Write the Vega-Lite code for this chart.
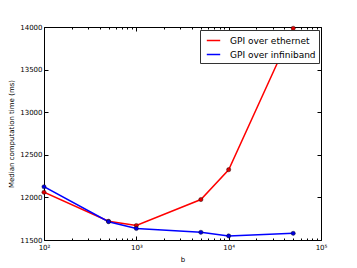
{
  "$schema": "https://vega.github.io/schema/vega-lite/v6.json",
  "width": 277,
  "height": 213,
  "autosize": {"type": "none"},
  "padding": {"left": 44, "top": 27, "right": 36, "bottom": 28},
  "background": "white",
  "config": {
    "font": "DejaVu Sans",
    "view": {"stroke": "black", "strokeWidth": 1},
    "axis": {
      "grid": false,
      "domain": false,
      "labelFont": "DejaVu Sans",
      "labelFontSize": 7,
      "labelColor": "black",
      "labelFlush": false,
      "labelOverlap": false,
      "tickColor": "black",
      "titleFont": "DejaVu Sans",
      "titleFontSize": 7,
      "titleFontWeight": "normal",
      "titleColor": "black"
    },
    "legend": {
      "orient": "none",
      "legendX": 156,
      "legendY": 3,
      "strokeColor": "#333333",
      "fillColor": "white",
      "padding": 3,
      "symbolType": "stroke",
      "symbolStrokeWidth": 1.5,
      "symbolSize": 180,
      "symbolOffset": 3,
      "labelOffset": 9,
      "labelFont": "DejaVu Sans",
      "labelFontSize": 9,
      "labelColor": "black",
      "rowPadding": 1,
      "cornerRadius": 0
    }
  },
  "data": {
    "values": [
      {"series": "GPI over ethernet", "b": 100, "t": 12060},
      {"series": "GPI over ethernet", "b": 500, "t": 11720},
      {"series": "GPI over ethernet", "b": 1000, "t": 11670},
      {"series": "GPI over ethernet", "b": 5000, "t": 11975},
      {"series": "GPI over ethernet", "b": 10000, "t": 12325},
      {"series": "GPI over ethernet", "b": 50000, "t": 13985},
      {"series": "GPI over infiniband", "b": 100, "t": 12125},
      {"series": "GPI over infiniband", "b": 500, "t": 11715},
      {"series": "GPI over infiniband", "b": 1000, "t": 11635},
      {"series": "GPI over infiniband", "b": 5000, "t": 11590},
      {"series": "GPI over infiniband", "b": 10000, "t": 11548},
      {"series": "GPI over infiniband", "b": 50000, "t": 11578}
    ]
  },
  "layer": [
    {
      "mark": {"type": "line", "strokeWidth": 1.5, "clip": true},
      "encoding": {
        "x": {"field": "b", "type": "quantitative",
          "scale": {"type": "log", "domain": [100, 100000], "nice": false},
          "axis": {"orient": "bottom", "values": [100, 1000, 10000, 100000],
            "labelExpr": "datum.value == 100 ? '10²' : datum.value == 1000 ? '10³' : datum.value == 10000 ? '10⁴' : '10⁵'",
            "tickSize": -4, "labelPadding": 7, "title": "b", "titlePadding": 5}},
        "y": {"field": "t", "type": "quantitative",
          "scale": {"domain": [11500, 14000], "nice": false, "zero": false},
          "axis": {"orient": "left", "values": [11500, 12000, 12500, 13000, 13500, 14000], "format": "d",
            "tickSize": -4, "labelPadding": 6, "title": "Median computation time (ms)", "titlePadding": 5}},
        "color": {"field": "series", "type": "nominal",
          "scale": {"domain": ["GPI over ethernet", "GPI over infiniband"], "range": ["#ff0000", "#0000ff"]},
          "legend": {"title": null}}
      }
    },
    {
      "mark": {"type": "point", "filled": true, "size": 18, "opacity": 1, "stroke": "black", "strokeWidth": 0.4},
      "encoding": {
        "x": {"field": "b", "type": "quantitative",
          "axis": {"orient": "bottom", "values": [200, 300, 400, 500, 600, 700, 800, 900, 2000, 3000, 4000, 5000, 6000, 7000, 8000, 9000, 20000, 30000, 40000, 50000, 60000, 70000, 80000, 90000],
            "labels": false, "tickSize": -2, "title": null}},
        "y": {"field": "t", "type": "quantitative",
          "axis": {"orient": "right", "values": [11500, 12000, 12500, 13000, 13500, 14000],
            "labels": false, "tickSize": -4, "title": null}},
        "fill": {"field": "series", "type": "nominal",
          "scale": {"domain": ["GPI over ethernet", "GPI over infiniband"], "range": ["#dd0000", "#0000dd"]},
          "legend": null}
      }
    },
    {
      "mark": {"type": "point", "opacity": 0},
      "encoding": {
        "x": {"field": "b", "type": "quantitative",
          "axis": {"orient": "top", "values": [100, 1000, 10000, 100000], "labels": false, "tickSize": -4, "title": null}},
        "y": {"field": "t", "type": "quantitative", "axis": null}
      }
    },
    {
      "mark": {"type": "point", "opacity": 0},
      "encoding": {
        "x": {"field": "b", "type": "quantitative",
          "axis": {"orient": "top", "values": [200, 300, 400, 500, 600, 700, 800, 900, 2000, 3000, 4000, 5000, 6000, 7000, 8000, 9000, 20000, 30000, 40000, 50000, 60000, 70000, 80000, 90000],
            "labels": false, "tickSize": -2, "title": null}},
        "y": {"field": "t", "type": "quantitative", "axis": null}
      }
    }
  ],
  "resolve": {"axis": {"x": "independent", "y": "independent"}}
}
